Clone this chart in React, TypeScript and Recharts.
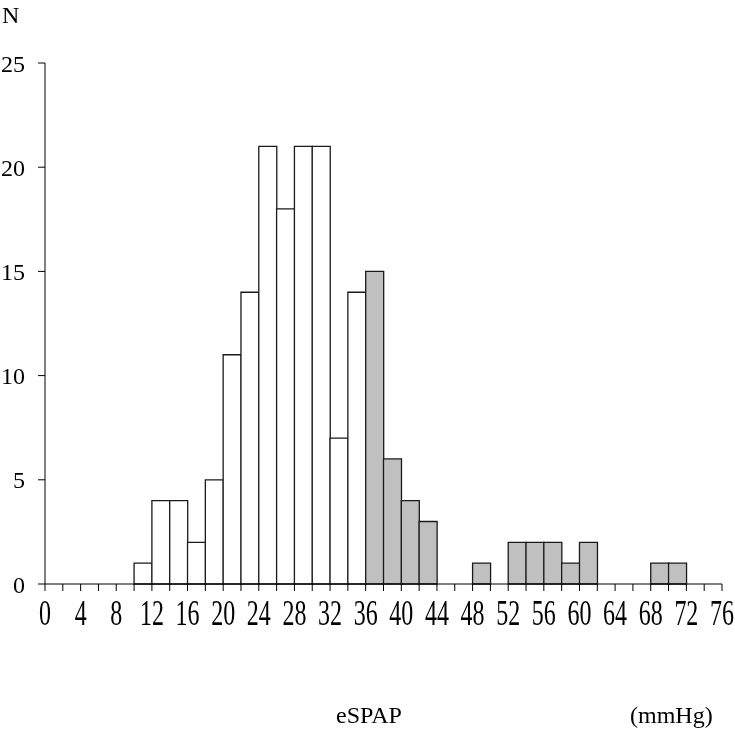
import { BarChart, Bar, XAxis, YAxis, Cell } from 'recharts';

const binStarts = [0, 2, 4, 6, 8, 10, 12, 14, 16, 18, 20, 22, 24, 26, 28, 30, 32, 34, 36, 38, 40, 42, 44, 46, 48, 50, 52, 54, 56, 58, 60, 62, 64, 66, 68, 70, 72, 74];
const counts = [0, 0, 0, 0, 0, 1, 4, 4, 2, 5, 11, 14, 21, 18, 21, 21, 7, 14, 15, 6, 4, 3, 0, 0, 1, 0, 2, 2, 2, 1, 2, 0, 0, 0, 1, 1, 0, 0];
const xTicks = [0, 2, 4, 6, 8, 10, 12, 14, 16, 18, 20, 22, 24, 26, 28, 30, 32, 34, 36, 38, 40, 42, 44, 46, 48, 50, 52, 54, 56, 58, 60, 62, 64, 66, 68, 70, 72, 74, 76];
const yTicks = [0, 5, 10, 15, 20, 25];
const binWidth = 2;
const highThreshold = 36;

// bars sit on the numeric axis at the middle of each bin
const data = binStarts.map((start, i) => ({ start, mid: start + binWidth / 2, n: counts[i] }));

const FONT = '"Liberation Serif", "Times New Roman", serif';
const tickStyle = { fontSize: 24, fill: '#000', fontFamily: FONT };

// x labels in the source are stretched vertically, only every 4 mmHg labelled
const XTick = ({ x, y, payload }: any) => {
  if (payload.value % 4 !== 0) return null;
  return (
    <g transform={`translate(${x},${y + 34}) scale(1,1.45)`}>
      <text x={0} y={0} textAnchor="middle" fontSize={24} fontFamily={FONT} fill="#000">
        {payload.value}
      </text>
    </g>
  );
};

export default function App() {
  return (
    <div style={{ position: 'fixed', left: 0, top: 0, width: 735, height: 730, overflow: 'hidden', fontFamily: FONT }}>
      <BarChart
        width={735}
        height={730}
        data={data}
        barCategoryGap={0}
        margin={{ top: 63, right: 13, bottom: 116, left: 0 }}
      >
        <XAxis
          dataKey="mid"
          type="number"
          domain={[0, 76]}
          ticks={xTicks}
          interval={0}
          height={30}
          tickSize={7}
          tickMargin={0}
          tick={<XTick />}
          stroke="#000"
          tickLine={{ stroke: '#000' }}
        />
        <YAxis
          domain={[0, 25]}
          ticks={yTicks}
          width={45}
          tickSize={7}
          tickMargin={13}
          tick={tickStyle}
          stroke="#000"
          tickLine={{ stroke: '#000' }}
        />
        <Bar dataKey="n" stroke="#1a1a1a" strokeWidth={1.3} isAnimationActive={false}>
          {data.map((d) => (
            <Cell key={d.start} fill={d.start >= highThreshold ? '#c0c0c0' : '#ffffff'} />
          ))}
        </Bar>
      </BarChart>
      <div style={{ position: 'absolute', left: 2, top: 3, fontSize: 24, lineHeight: 1 }}>N</div>
      <div style={{ position: 'absolute', left: 336, top: 703, fontSize: 24, lineHeight: 1 }}>eSPAP</div>
      <div style={{ position: 'absolute', left: 630, top: 703, fontSize: 24, lineHeight: 1 }}>(mmHg)</div>
    </div>
  );
}
